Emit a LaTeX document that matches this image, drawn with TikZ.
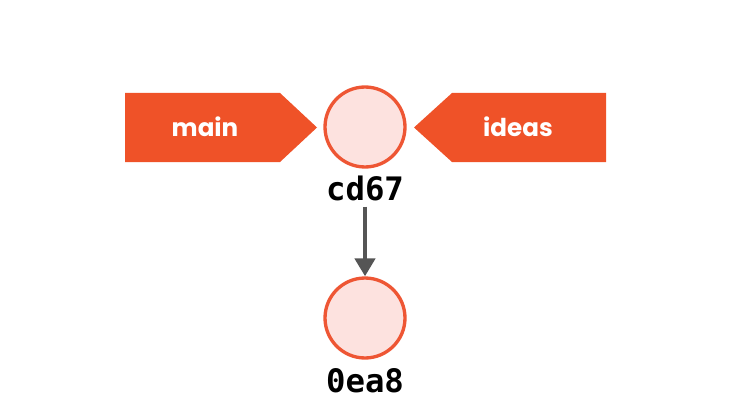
\documentclass[tikz,border=0pt]{standalone}
\usepackage{fontspec}
\setmainfont{Poppins}
\newfontfamily\hashfont{DejaVu Sans Mono}
\usetikzlibrary{arrows.meta}

\definecolor{branchred}{HTML}{EF5228}
\definecolor{commitfill}{HTML}{FDE2DF}
\definecolor{commitline}{HTML}{EE5634}
\definecolor{parentgray}{HTML}{555555}

\tikzset{
  commit/.style={circle, draw=commitline, fill=commitfill, line width=1.9pt, minimum size=1.6cm, inner sep=0pt},
  hashlabel/.style={font=\hashfont\bfseries\fontsize{18.4}{20}\selectfont, text=black},
  branchlabel/.style={font=\bfseries\fontsize{14}{17}\selectfont, text=white},
  parent/.style={draw=parentgray, line width=2.8pt, -{Triangle[length=0.36cm, width=0.4cm]}}
}

\begin{document}
\begin{tikzpicture}[x=0.02cm, y=-0.02cm]
\useasboundingbox (0,0) rectangle (749,405);

% commits
\node[commit] (cd) at (365,127) {};
\node[commit] (ea) at (365,318) {};
\node[hashlabel] (cdname) at (365,188) {cd67};
\node[hashlabel] (eaname) at (365,381) {0ea8};

% parent link
\draw[parent] (cdname.south) -- (ea.north);

% branch pointers
\fill[branchred] (125,93) -- (280,93) -- (317,127.5) -- (280,162) -- (125,162) -- cycle;
\fill[branchred] (606,93) -- (452,93) -- (414,127.5) -- (452,162) -- (606,162) -- cycle;
\node[branchlabel] (main) at (205,127) {main};
\node[branchlabel] (ideas) at (518,127) {ideas};

\end{tikzpicture}
\end{document}
